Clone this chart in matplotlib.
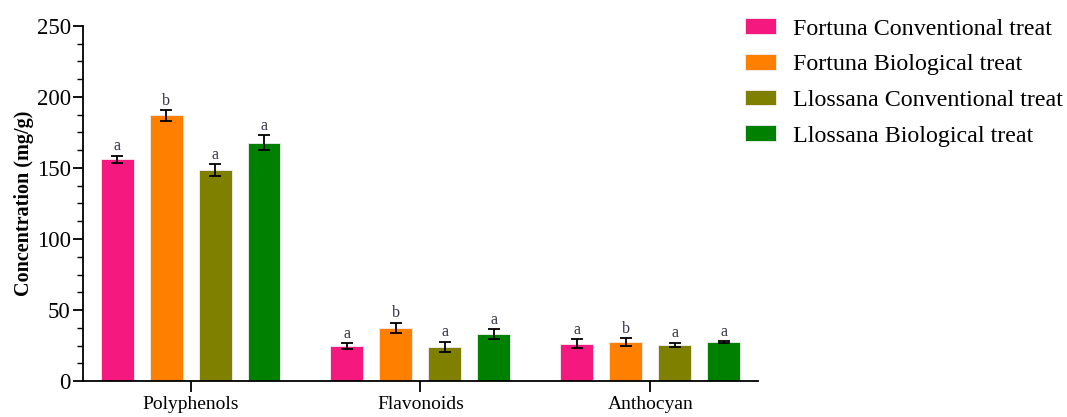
import numpy as np
import matplotlib.pyplot as plt
from matplotlib.ticker import MultipleLocator

plt.rcParams['font.family'] = ['Liberation Serif', 'DejaVu Serif']

categories = ['Polyphenols', 'Flavonoids', 'Anthocyan']
series = ['Fortuna Conventional treat', 'Fortuna Biological treat',
          'Llossana Conventional treat', 'Llossana Biological treat']
values = [[156, 24.6, 26.3],
          [187, 37.6, 27.7],
          [148.6, 24.2, 25.4],
          [167.6, 33.1, 27.3]]
errors = [[2.6, 2.1, 3.0],
          [3.6, 3.6, 2.7],
          [4.2, 3.4, 1.6],
          [5.3, 3.6, 0.6]]
letters = [['a', 'a', 'a'],
           ['b', 'b', 'b'],
           ['a', 'a', 'a'],
           ['a', 'a', 'a']]
colors = ['#F5187F', '#FF8000', '#808000', '#008000']

fig = plt.figure(figsize=(10.67, 4.17), dpi=100)
ax = fig.add_axes([0.078, 0.086, 0.632, 0.852])

x = np.arange(len(categories))
step = 0.213
width = 0.1435
for i in range(len(series)):
    pos = x + (i - 1.5) * step
    ax.bar(pos, values[i], width, color=colors[i], edgecolor='#f0f0f0',
           linewidth=0.6, label=series[i])
    ax.errorbar(pos, values[i], yerr=errors[i], fmt='none', ecolor='black',
                elinewidth=1.3, capsize=4, capthick=1.3)
    for p, v, e, t in zip(pos, values[i], errors[i], letters[i]):
        ax.text(p, v + e + 1.0, t, ha='center', va='bottom', fontsize=11.5,
                color='#333344')

ax.set_xlim(-0.467, 2.467)
ax.set_ylim(0, 250)
ax.set_xticks(x)
ax.set_xticklabels(categories, fontsize=14)
ax.yaxis.set_major_locator(MultipleLocator(50))
ax.yaxis.set_minor_locator(MultipleLocator(12.5))
ax.tick_params(axis='y', which='major', length=7, width=1.3, labelsize=16.5,
               pad=2)
ax.tick_params(axis='y', which='minor', length=4, width=1.0)
ax.tick_params(axis='x', length=8, width=1.3, pad=3)
ax.set_ylabel('Concentration (mg/g)', fontsize=14.5, fontweight='bold',
              labelpad=2)
for s in ['top', 'right']:
    ax.spines[s].set_visible(False)
for s in ['left', 'bottom']:
    ax.spines[s].set_linewidth(1.3)

fig.legend(loc='upper left', bbox_to_anchor=(0.678, 1.008), frameon=False,
           fontsize=17.3, handlelength=1.3, handleheight=0.63,
           labelspacing=0.6, handletextpad=0.7)

fig.savefig('out.png', dpi=100)
